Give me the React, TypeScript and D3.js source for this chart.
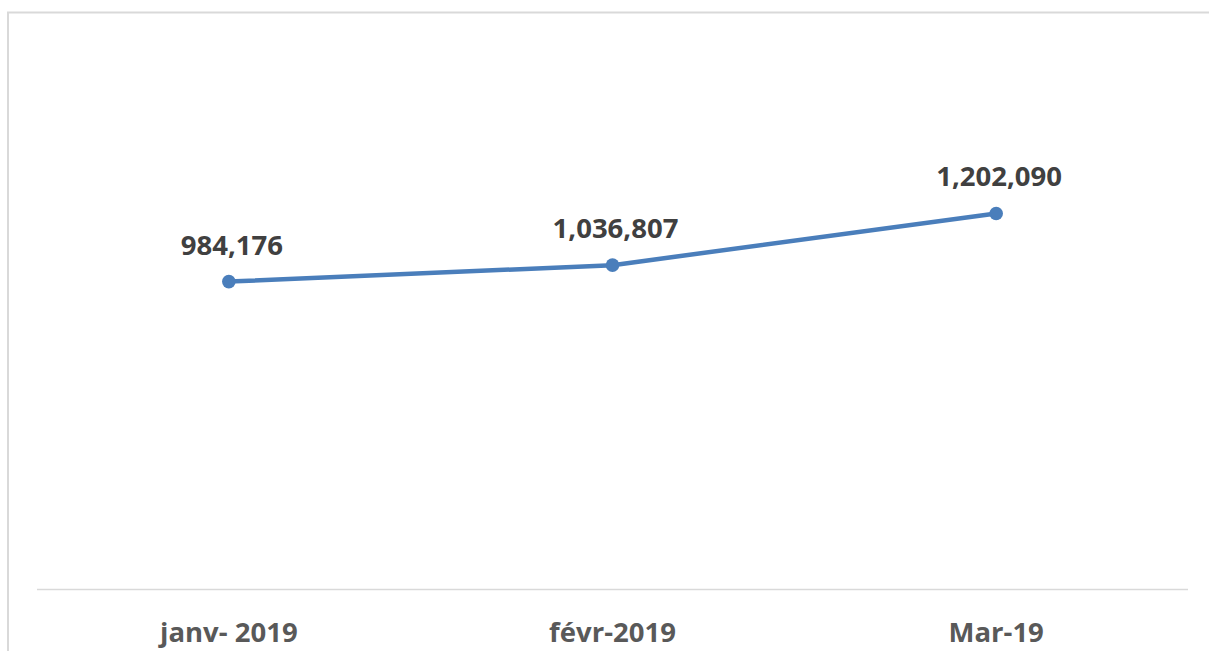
import React from "react";
import * as d3 from "d3";

const categories = ["janv- 2019", "févr-2019", "Mar-19"];
const values = [984176, 1036807, 1202090];

const W = 1209;
const H = 651;

export default function App() {
  const x = d3.scaleBand<string>().domain(categories).range([37, 1188]);
  const y = d3.scaleLinear().domain([0, 1800000]).range([589.5, 26.4]);
  const pts: [number, number][] = values.map((v, i) => [
    (x(categories[i]) as number) + x.bandwidth() / 2,
    y(v),
  ]);
  const line = d3.line();
  const fmt = d3.format(",");
  const font = "'Open Sans', 'Liberation Sans', sans-serif";
  return (
    <svg
      width={W}
      height={H}
      style={{ position: "absolute", left: 0, top: 0, display: "block", background: "#fff" }}
    >
      <rect x={8} y={12.5} width={1400} height={900} fill="#fff" stroke="#d9d9d9" strokeWidth={2} />
      <line x1={37} x2={1188} y1={589.5} y2={589.5} stroke="#d9d9d9" strokeWidth={1.5} />
      <path d={line(pts) || ""} fill="none" stroke="#4a7ebb" strokeWidth={4.5} strokeLinejoin="round" strokeLinecap="round" />
      {pts.map((p, i) => (
        <circle key={i} cx={p[0]} cy={p[1]} r={6.8} fill="#4a7ebb" />
      ))}
      {pts.map((p, i) => (
        <text
          key={"l" + i}
          x={p[0] + 3}
          y={p[1] - 27}
          textAnchor="middle"
          fontFamily={font}
          fontWeight="bold"
          fontSize={27.5}
          fill="#404040"
        >
          {fmt(values[i])}
        </text>
      ))}
      {categories.map((c) => (
        <text
          key={c}
          x={(x(c) as number) + x.bandwidth() / 2}
          y={641.7}
          textAnchor="middle"
          fontFamily={font}
          fontWeight="bold"
          fontSize={27.5}
          fill="#595959"
        >
          {c}
        </text>
      ))}
    </svg>
  );
}
